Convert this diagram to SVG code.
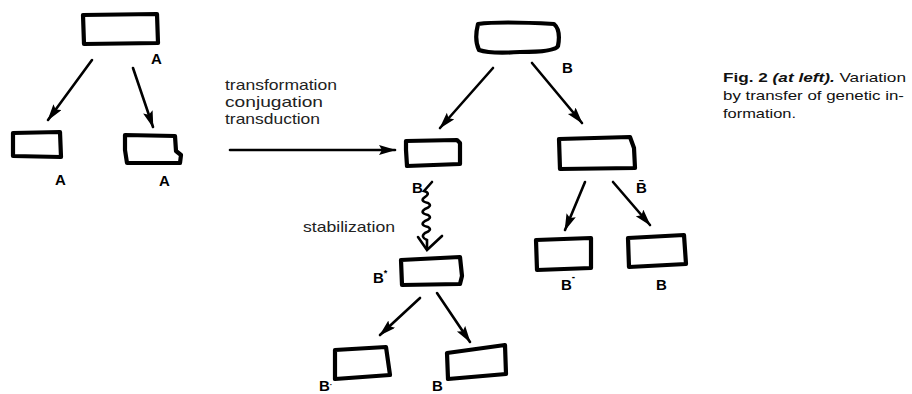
<svg xmlns="http://www.w3.org/2000/svg" width="912" height="394" viewBox="0 0 912 394">
<style>
.box{fill:none;stroke:#000;stroke-width:4.2;stroke-linejoin:round;stroke-linecap:round}
.conn{fill:none;stroke:#000;stroke-width:2.6;stroke-linecap:round}
.lab{font-family:"Liberation Sans",Arial,sans-serif;font-weight:bold;font-size:15px;fill:#000}
.txt{font-family:"Liberation Sans",Arial,sans-serif;font-size:15px;fill:#222}
.cap{font-family:"Liberation Sans",Arial,sans-serif;font-size:13px;fill:#111}
</style>
<defs>
<marker id="ah" markerUnits="userSpaceOnUse" markerWidth="18" markerHeight="12" refX="16" refY="5" orient="auto">
<path d="M0,0 L17,5 L0,10 L3,5 Z" fill="#000"/>
</marker>
</defs>
<rect width="912" height="394" fill="#fff"/>

<g id="connectors">
<line class="conn" x1="92" y1="60" x2="48" y2="120" marker-end="url(#ah)"/>
<line class="conn" x1="133" y1="68" x2="153" y2="127" marker-end="url(#ah)"/>
<line class="conn" x1="230" y1="150" x2="395" y2="150" marker-end="url(#ah)"/>
<line class="conn" x1="493" y1="68" x2="440" y2="128" marker-end="url(#ah)"/>
<line class="conn" x1="532" y1="63" x2="582" y2="123" marker-end="url(#ah)"/>
<line class="conn" x1="585" y1="182" x2="565" y2="230" marker-end="url(#ah)"/>
<line class="conn" x1="613" y1="182" x2="650" y2="225" marker-end="url(#ah)"/>
<line class="conn" x1="420" y1="298" x2="380" y2="335" marker-end="url(#ah)"/>
<line class="conn" x1="437" y1="293" x2="470" y2="342" marker-end="url(#ah)"/>
<g id="stabilization-arrow">
<path class="conn" stroke-width="3" d="M432,182 L424,191 Q431,193 425,197 Q419,201 428,203 Q433,206 425,209 Q419,213 428,215 Q433,218 425,221 Q419,225 428,227 Q433,230 425,233 Q420,237 427,240 L427,249"/>
<path class="conn" stroke-width="3" d="M418,237 L427,250 L442,236"/>
</g>
</g>

<g id="node-A-top">
<path class="box" d="M83,15 L157,14 L158,43 L84,44 Z"/>
<text class="lab" x="151" y="64">A</text>
</g>
<g id="node-A-left">
<path class="box" d="M13,133 L60,132 L61,157 L13,156 Z"/>
<text class="lab" x="55" y="185">A</text>
</g>
<g id="node-A-right">
<path class="box" d="M125,135 L175,136 L176,151 L181,155 L180,163 L127,163 L125,150 Z"/>
<text class="lab" x="159" y="186">A</text>
</g>
<g id="node-B-top">
<path class="box" d="M478,24 Q500,21 554,24 Q561,30 558,46 Q555,52 520,52 Q490,54 479,50 Q474,40 478,24 Z"/>
<text class="lab" x="562" y="73">B</text>
</g>
<g id="node-B-recipient">
<path class="box" d="M406,141 L457,140 L460,143 L460,164 L407,166 L406,150 Z"/>
<text class="lab" x="412" y="193">B</text>
</g>
<g id="node-Bbar">
<path class="box" d="M559,139 L630,137 L634,148 L635,168 L560,169 Z"/>
<text class="lab" x="636" y="193">B&#x304;</text>
</g>
<g id="node-Bstar">
<path class="box" d="M401,260 L460,257 L462,276 L460,284 L402,285 Z"/>
<text class="lab" x="373" y="283">B<tspan dy="-7" style="font-size:9px">*</tspan></text>
</g>
<g id="node-Bstar-left">
<path class="box" d="M335,350 L386,347 L390,375 L335,379 Z"/>
<text class="lab" x="319" y="391">B<tspan dy="-4" style="font-size:8px">·</tspan></text>
</g>
<g id="node-Bstar-right">
<path class="box" d="M447,353 L505,345 L506,374 L448,379 Z"/>
<text class="lab" x="432" y="391">B</text>
</g>
<g id="node-Bbar-left">
<path class="box" d="M536,240 L591,238 L591,268 L537,270 Z"/>
<text class="lab" x="561" y="290">B<tspan dy="-10" style="font-size:10px">-</tspan></text>
</g>
<g id="node-Bbar-right">
<path class="box" d="M628,238 L684,235 L686,264 L629,267 Z"/>
<text class="lab" x="656" y="290">B</text>
</g>

<g id="labels">
<text class="txt" x="225" y="90" textLength="112" lengthAdjust="spacingAndGlyphs">transformation</text>
<text class="txt" x="225" y="107" textLength="98" lengthAdjust="spacingAndGlyphs">conjugation</text>
<text class="txt" x="225" y="124" textLength="95" lengthAdjust="spacingAndGlyphs">transduction</text>
<text class="txt" x="303" y="232" textLength="92" lengthAdjust="spacingAndGlyphs">stabilization</text>
</g>

<g id="caption">
<text class="cap" x="723" y="82" textLength="183" lengthAdjust="spacingAndGlyphs"><tspan font-weight="bold">Fig. 2 </tspan><tspan font-weight="bold" font-style="italic">(at left).</tspan> Variation</text>
<text class="cap" x="723" y="100" textLength="181" lengthAdjust="spacingAndGlyphs">by transfer of genetic in-</text>
<text class="cap" x="723" y="118" textLength="73" lengthAdjust="spacingAndGlyphs">formation.</text>
</g>
</svg>
